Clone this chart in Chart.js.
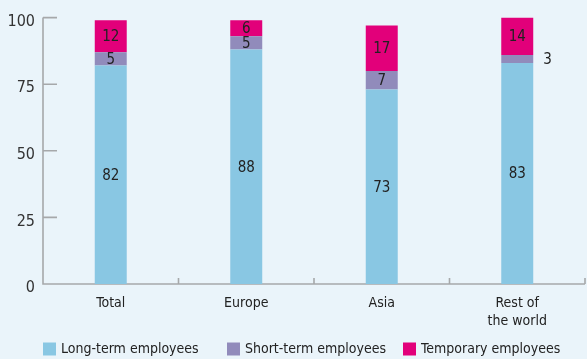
<!DOCTYPE html>
<html>
<head>
<meta charset="utf-8">
<script src="https://cdn.jsdelivr.net/npm/chart.js@4/dist/chart.umd.min.js"></script>
<style>
  html, body { margin: 0; padding: 0; background: #eaf4fa; }
  #wrap { width: 587px; height: 359px; position: relative; }
</style>
</head>
<body>
<div id="wrap"><canvas id="staffChart"></canvas></div>
<script>
const categories = ['Total', 'Europe', 'Asia', ['Rest of', 'the world']];
const longTerm = [82, 88, 73, 83];
const shortTerm = [5, 5, 7, 3];
const temporary = [12, 6, 17, 14];
const yTicks = [0, 25, 50, 75, 100];

const FONT = "'Liberation Sans Narrow', 'DejaVu Sans Condensed', sans-serif";
const AXIS_COLOR = '#a6a8aa';
const TEXT_COLOR = '#222';

// axis lines with inward ticks, drawn under the bars
const axisLines = {
    id: 'axisLines',
    beforeDatasetsDraw(chart) {
        const ctx = chart.ctx;
        const x = chart.scales.x, y = chart.scales.y;
        const left = chart.chartArea.left, right = chart.chartArea.right;
        const bottom = y.getPixelForValue(0);
        ctx.save();
        ctx.strokeStyle = AXIS_COLOR;
        ctx.lineWidth = 1.6;
        ctx.beginPath();
        ctx.moveTo(left, y.getPixelForValue(100));
        ctx.lineTo(left, bottom);
        ctx.lineTo(right, bottom);
        yTicks.forEach(t => {
            if (t === 0) return;
            const py = y.getPixelForValue(t);
            ctx.moveTo(left, py);
            ctx.lineTo(left + 14, py);
        });
        // category separators on the x axis
        for (let i = 1; i <= categories.length; i++) {
            const px = i === categories.length ? right
                : (x.getPixelForValue(i - 1) + x.getPixelForValue(i)) / 2;
            ctx.moveTo(px, bottom);
            ctx.lineTo(px, bottom - 6);
        }
        ctx.stroke();
        ctx.restore();
    }
};

// numbers inside the segments; thin segments get theirs on the right
const valueLabels = {
    id: 'valueLabels',
    afterDatasetsDraw(chart) {
        const ctx = chart.ctx;
        ctx.save();
        ctx.font = '15px ' + FONT;
        ctx.fillStyle = TEXT_COLOR;
        ctx.textBaseline = 'middle';
        chart.data.datasets.forEach((ds, di) => {
            chart.getDatasetMeta(di).data.forEach((bar, i) => {
                const v = ds.data[i];
                const h = Math.abs(bar.base - bar.y);
                const cy = (bar.y + bar.base) / 2 + 1;
                if (h < 12) {
                    ctx.textAlign = 'left';
                    ctx.fillText(String(v), bar.x + bar.width / 2 + 10, cy);
                } else {
                    ctx.textAlign = 'center';
                    ctx.fillText(String(v), bar.x, cy);
                }
            });
        });
        ctx.restore();
    }
};

// legend row along the bottom, one slot per series
const legendSlots = [0, 184, 360];
const bottomLegend = {
    id: 'bottomLegend',
    afterDraw(chart) {
        const ctx = chart.ctx;
        ctx.save();
        ctx.font = '14px ' + FONT;
        ctx.textBaseline = 'middle';
        ctx.textAlign = 'left';
        const cy = 349;
        chart.data.datasets.forEach((ds, i) => {
            const px = chart.chartArea.left + legendSlots[i];
            ctx.fillStyle = ds.backgroundColor;
            ctx.fillRect(px, cy - 6.5, 13, 13);
            ctx.fillStyle = TEXT_COLOR;
            ctx.fillText(ds.label, px + 18, cy + 0.5);
        });
        ctx.restore();
    }
};

const ctx = document.getElementById('staffChart').getContext('2d');
const staffChart = new Chart(ctx, {
    type: 'bar',
    data: {
        labels: categories,
        datasets: [
            { label: 'Long-term employees', data: longTerm, backgroundColor: '#89c7e3' },
            { label: 'Short-term employees', data: shortTerm, backgroundColor: '#918bbb' },
            { label: 'Temporary employees', data: temporary, backgroundColor: '#e2007a' }
        ]
    },
    options: {
        responsive: true,
        maintainAspectRatio: false,
        animation: false,
        layout: { padding: { top: 15, right: 2, bottom: 30, left: 0 } },
        datasets: {
            bar: { barPercentage: 0.236, categoryPercentage: 1, borderWidth: 0 }
        },
        plugins: {
            legend: { display: false },
            tooltip: { enabled: false }
        },
        scales: {
            x: {
                stacked: true,
                grid: { display: false, drawTicks: false },
                border: { display: false },
                ticks: { color: TEXT_COLOR, font: { family: FONT, size: 14, lineHeight: 1.3 }, padding: 10, maxRotation: 0 },
                afterFit(scale) { scale.height = 45; }
            },
            y: {
                stacked: true,
                min: 0,
                max: 100,
                grid: { display: false, drawTicks: false },
                border: { display: false },
                afterBuildTicks(scale) { scale.ticks = yTicks.map(v => ({ value: v })); },
                ticks: { color: '#333', font: { family: FONT, size: 16 }, padding: 8, labelOffset: 4 },
                afterFit(scale) { scale.width = 43; }
            }
        }
    },
    plugins: [axisLines, valueLabels, bottomLegend]
});
</script>
</body>
</html>
